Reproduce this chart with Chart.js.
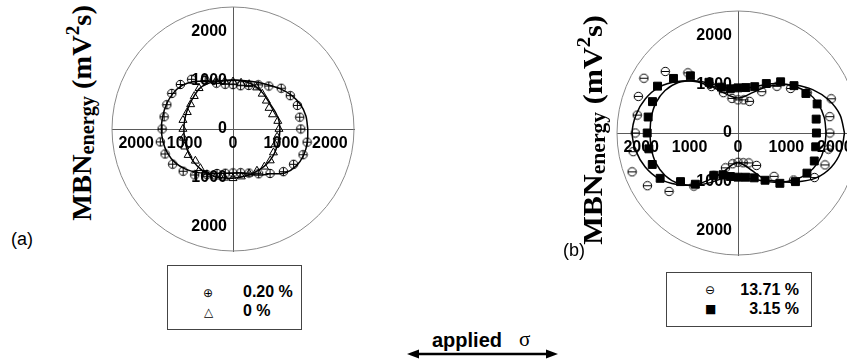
<!DOCTYPE html>
<html>
<head>
<meta charset="utf-8">
<script src="https://cdn.jsdelivr.net/npm/chart.js@4.4.1/dist/chart.umd.min.js"></script>
<style>
  html, body { margin: 0; padding: 0; background: #fff; overflow: hidden; }
  #page { position: relative; width: 847px; height: 363px; overflow: hidden;
          font-family: 'Liberation Sans', Arial, sans-serif; color: #000; }
  canvas { position: absolute; }
  #chartA { left: 102px; top: -3px; }
  #chartB { left: 607px; top: 1px; }
  .ylab { position: absolute; font-family: 'Liberation Serif', 'Times New Roman', serif;
          font-weight: bold; font-size: 28px; line-height: 28px; white-space: nowrap;
          transform-origin: center center; }
  .ylab .sub { font-size: 20px; vertical-align: -3px; }
  .ylab .sup { font-size: 19px; vertical-align: 12px; }
  .tag { position: absolute; font-size: 18px; line-height: 20px; }
  .box { position: absolute; border: 1px solid #444; box-sizing: border-box; }
  .lbl { position: absolute; font-weight: bold; font-size: 16px; line-height: 18px; white-space: nowrap; }
  .sym { position: absolute; font-family: 'DejaVu Sans', sans-serif; font-size: 12px; line-height: 12px; }
  #applied { position: absolute; left: 432px; top: 330px; font-weight: bold; font-size: 20px; line-height: 20px; }
  #sigma { position: absolute; left: 519px; top: 329px; font-family: 'Liberation Serif', serif; font-size: 21px; line-height: 20px; }
  #arrow { position: absolute; left: 404px; top: 348px; }
</style>
</head>
<body>
<div id="page">
  <canvas id="chartA" width="262" height="264"></canvas>
  <canvas id="chartB" width="262" height="264"></canvas>

  <div class="ylab" id="ylabA" data-cx="80" data-cy="113" data-len="216"><span>MBN</span><span class="sub">energy</span><span> (mV</span><span class="sup">2</span><span>s)</span></div>
  <div class="ylab" id="ylabB" data-cx="591" data-cy="130" data-len="230"><span>MBN</span><span class="sub">energy</span><span> (mV</span><span class="sup">2</span><span>s)</span></div>

  <div class="tag" style="left:11px; top:229px;">(a)</div>
  <div class="tag" style="left:563px; top:240px;">(b)</div>

  <div class="box" style="left:167px; top:265px; width:135px; height:65px;"></div>
  <div class="sym" style="left:203px; top:287px;">&#x2295;</div>
  <div class="lbl" style="left:243px; top:283px;">0.20 %</div>
  <div class="sym" style="left:204px; top:306px;">&#x25B3;</div>
  <div class="lbl" style="left:243px; top:302px;">0 %</div>

  <div class="box" style="left:666px; top:272px; width:146px; height:55px;"></div>
  <div class="sym" style="left:705px; top:284px;">&#x2296;</div>
  <div class="lbl" style="right:48px; top:281px;">13.71 %</div>
  <div class="sym" style="left:705px; top:303px;">&#x25A0;</div>
  <div class="lbl" style="right:48px; top:300px;">3.15 %</div>

  <div id="applied">applied</div>
  <div id="sigma">&#x03C3;</div>
  <svg id="arrow" width="158" height="12">
    <line x1="10" y1="6" x2="146" y2="6" stroke="#000" stroke-width="2.4"/>
    <polygon points="3,6 15,1.5 15,10.5" fill="#000"/>
    <polygon points="154,6 142,1.5 142,10.5" fill="#000"/>
  </svg>
</div>

<script>
// measurement angles (degrees, counter-clockwise from the stress axis)
var angles = [0, 10, 20, 30, 40, 50, 60, 70, 80, 90, 100, 110, 120, 130, 140, 150, 160, 170,
              180, 190, 200, 210, 220, 230, 240, 250, 260, 270, 280, 290, 300, 310, 320, 330, 340, 350]

// (a) measured MBN energy
var mbn020 = [1400, 1400, 1415, 1366, 1300, 1150, 1045, 950, 900, 910, 930, 1000, 1150, 1330, 1420, 1460, 1455, 1445,
              1465, 1525, 1495, 1440, 1345, 1230, 1080, 970, 920, 900, 910, 960, 1060, 1190, 1360, 1445, 1540, 1555]
var mbn000 = [950, 940, 870, 860, 900, 940, 980, 975, 960, 970, 990, 1040, 1180, 1090, 1045, 1010, 1005, 1050,
              1035, 1040, 1060, 1070, 1015, 1050, 1075, 1040, 1015, 1010, 990, 975, 990, 1010, 1005, 965, 925, 925]
// (a) fitted curves
var fit020 = [1545, 1530, 1480, 1390, 1280, 1170, 1095, 1040, 1010, 1000, 1010, 1045, 1130, 1270, 1380, 1440, 1465, 1475,
              1480, 1470, 1440, 1380, 1280, 1160, 1045, 965, 920, 905, 915, 985, 1090, 1200, 1400, 1510, 1555, 1560]
var fit000 = [970, 965, 945, 925, 930, 960, 985, 1000, 1005, 1005, 1010, 1030, 1070, 1080, 1050, 1030, 1020, 1015,
              1015, 1020, 1030, 1045, 1055, 1060, 1060, 1040, 1020, 1010, 1000, 995, 995, 1000, 1000, 990, 975, 970]

// (b) measured MBN energy
var mbn1371 = [1897, 1926, 2050, 1650, 1420, 1250, 979, 690, 690, 680, 720, 880, 1100, 1610, 1962, 2245, 2191, 2115,
               2124, 2200, 2329, 2161, 1861, 1420, 1000, 760, 640, 600, 620, 652, 767, 1159, 1500, 1825, 1912, 1897]
var mbn315 = [1620, 1640, 1740, 1620, 1510, 1370, 1170, 1010, 945, 925, 920, 1000, 1200, 1530, 1740, 1920, 1880, 1885,
              1876, 1870, 1885, 1857, 1550, 1370, 1000, 910, 905, 905, 920, 978, 1118, 1346, 1550, 1645, 1677, 1630]
// (b) fitted curves
var fit1371 = [2200, 2140, 1990, 1780, 1530, 1290, 1070, 880, 760, 715, 760, 880, 1100, 1380, 1640, 1880, 2040, 2140,
               2186, 2140, 2040, 1880, 1640, 1380, 1080, 830, 660, 610, 660, 810, 1080, 1300, 1560, 1850, 2050, 2160]
var fit315 = [1820, 1810, 1760, 1660, 1500, 1320, 1150, 1010, 940, 920, 935, 1000, 1180, 1400, 1610, 1740, 1805, 1820,
              1815, 1820, 1805, 1740, 1610, 1400, 1180, 1000, 935, 920, 940, 1010, 1150, 1320, 1500, 1660, 1760, 1810]

var tickValues = [-2000, -1000, 0, 1000, 2000]
var rMax = 2500

function toXY (radii, close) {
  var pts = angles.map(function (a, i) {
    var t = a * Math.PI / 180
    return {x: radii[i] * Math.cos(t), y: radii[i] * Math.sin(t)}
  })
  if (close) pts.push(pts[0])
  return pts
}

// little marker images for the circled symbols
function markImg (kind) {
  var c = document.createElement('canvas')
  c.width = 11; c.height = 11
  var g = c.getContext('2d')
  g.strokeStyle = '#000'; g.lineWidth = 1
  g.beginPath(); g.arc(5.5, 5.5, 4.2, 0, Math.PI * 2); g.stroke()
  g.beginPath(); g.moveTo(1.3, 5.5); g.lineTo(9.7, 5.5)
  if (kind == 'plus') { g.moveTo(5.5, 1.3); g.lineTo(5.5, 9.7) }
  g.stroke()
  return c
}

// outer ring of the polar frame
var ringPlugin = {
  id: 'ring',
  beforeDatasetsDraw (chart) {
    var ctx = chart.ctx, x = chart.scales.x, y = chart.scales.y
    var cx = x.getPixelForValue(0), cy = y.getPixelForValue(0)
    var rx = x.getPixelForValue(rMax) - cx, ry = cy - y.getPixelForValue(rMax)
    ctx.save()
    ctx.strokeStyle = '#8a8a8a'
    ctx.lineWidth = 1
    ctx.beginPath()
    ctx.ellipse(cx, cy, rx, ry, 0, 0, Math.PI * 2)
    ctx.stroke()
    ctx.restore()
  }
}

var tickFont = {family: "'Liberation Sans', Arial, sans-serif", size: 16, weight: 'bold'}
function setTicks (s) { s.ticks = tickValues.map(function (v) { return {value: v} }) }

function makeChart (id, datasets) {
  return new Chart(document.getElementById(id), {
    type: 'scatter',
    data: {datasets: datasets},
    plugins: [ringPlugin],
    options: {
      responsive: false,
      maintainAspectRatio: false,
      devicePixelRatio: 1,
      animation: false,
      events: [],
      layout: {padding: 10},
      plugins: {legend: {display: false}, tooltip: {enabled: false}},
      scales: {
        x: {
          type: 'linear', min: -rMax, max: rMax, position: {y: 0},
          grid: {display: false, drawTicks: false},
          border: {display: true, color: '#5a5a5a', width: 1},
          ticks: {font: tickFont, color: '#000', padding: 5, z: 1, maxRotation: 0, autoSkip: false,
                  callback: function (v) { return Math.abs(v) }},
          afterBuildTicks: setTicks
        },
        y: {
          type: 'linear', min: -rMax, max: rMax, position: {x: 0},
          grid: {display: false, drawTicks: false},
          border: {display: true, color: '#5a5a5a', width: 1},
          ticks: {display: false},
          afterBuildTicks: setTicks
        },
        yLabels: {
          type: 'linear', axis: 'y', min: -rMax, max: rMax, position: {x: -125},
          grid: {display: false, drawTicks: false},
          border: {display: false},
          ticks: {font: tickFont, color: '#000', padding: 0, z: 1, autoSkip: false,
                  callback: function (v) { return Math.abs(v) }},
          afterBuildTicks: setTicks
        }
      }
    }
  })
}

function points (data, style, radius, fill) {
  return {data: data, showLine: false, pointStyle: style, pointRadius: radius,
          pointBorderColor: '#000', pointBorderWidth: 1, pointBackgroundColor: fill}
}
function curve (data) {
  return {data: data, showLine: true, tension: 0.3, borderColor: '#000', borderWidth: 1.5,
          pointRadius: 0, fill: false}
}

makeChart('chartA', [
  points(toXY(mbn020), markImg('plus'), 5, 'rgba(0,0,0,0)'),
  points(toXY(mbn000), 'triangle', 4.6, 'rgba(0,0,0,0)'),
  curve(toXY(fit020, true)),
  curve(toXY(fit000, true))
])

makeChart('chartB', [
  points(toXY(mbn315), 'rect', 5.6, '#000'),
  points(toXY(mbn1371), markImg('minus'), 5, 'rgba(0,0,0,0)'),
  curve(toXY(fit1371, true)),
  curve(toXY(fit315, true))
])

// rotated axis titles, stretched to the length seen in the figure
document.querySelectorAll('.ylab').forEach(function (el) {
  var w = el.offsetWidth, h = el.offsetHeight
  var k = parseFloat(el.dataset.len) / w
  el.style.left = (parseFloat(el.dataset.cx) - w / 2) + 'px'
  el.style.top = (parseFloat(el.dataset.cy) - h / 2) + 'px'
  el.style.transform = 'rotate(-90deg) scaleX(' + k + ')'
})
</script>
</body>
</html>
